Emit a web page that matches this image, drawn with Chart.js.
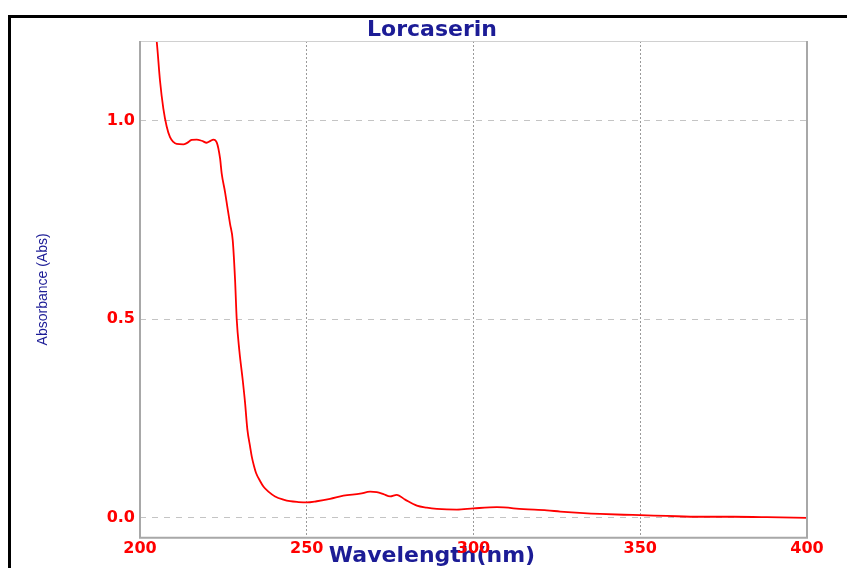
<!DOCTYPE html>
<html>
<head>
<meta charset="utf-8">
<title>Lorcaserin</title>
<script src="https://cdn.jsdelivr.net/npm/chart.js@4"></script>
<style>
  html, body { margin: 0; padding: 0; background: #fff; }
  #wrap { position: relative; width: 847px; height: 568px; overflow: hidden; }
  #frame {
    position: absolute; left: 8px; top: 15px; width: 900px; height: 600px;
    border-left: 3px solid #000; border-top: 3px solid #000; pointer-events: none;
  }
</style>
</head>
<body>
<div id="wrap">
  <canvas id="chart" width="847" height="568"></canvas>
  <div id="frame"></div>
</div>
<script>
// spectrum
const wavelength = [
  204, 205, 206, 207, 208, 209, 210, 211, 213, 214, 215.5, 217, 218.5, 220, 221, 222, 223, 224,
  224.5, 225.5, 226.2, 227, 227.8, 228.5, 229, 229.8, 230.8, 231.5, 232.2, 233, 233.5, 234.2,
  234.8, 236, 237, 238.5, 240.5, 243, 245, 247.5, 250, 253, 257, 261, 266, 269, 271, 273, 275,
  277, 279.5, 283, 286, 289, 295, 300, 307, 315, 322, 326, 333, 338, 345, 350, 358, 368, 378,
  388, 400
];
const absorbance = [
  1.26, 1.20, 1.10, 1.03, 0.985, 0.958, 0.946, 0.941, 0.940, 0.943, 0.951, 0.952, 0.949, 0.944,
  0.948, 0.952, 0.945, 0.905, 0.866, 0.82, 0.782, 0.74, 0.699, 0.60, 0.50, 0.42, 0.347, 0.29,
  0.222, 0.18, 0.155, 0.13, 0.113, 0.093, 0.079, 0.066, 0.054, 0.046, 0.042, 0.040, 0.039,
  0.042, 0.048, 0.056, 0.061, 0.066, 0.065, 0.060, 0.054, 0.058, 0.046, 0.031, 0.026, 0.023,
  0.021, 0.024, 0.027, 0.022, 0.019, 0.016, 0.012, 0.010, 0.008, 0.007, 0.005, 0.003, 0.003,
  0.002, 0.0
];
const xTicks = [200, 250, 300, 350, 400];
const yTicks = [0, 0.5, 1.0];

const points = wavelength.map((w, i) => ({ x: w, y: absorbance[i] }));

const navy = '#1c1c96';
const tickFont = { family: 'DejaVu Sans', size: 16, weight: 'bold' };

// gray box round the plot area
const plotFrame = {
  id: 'plotFrame',
  afterDraw(chart) {
    const { ctx, chartArea: a } = chart;
    ctx.save();
    ctx.setLineDash([]);
    ctx.strokeStyle = '#d0d0d0';
    ctx.lineWidth = 1;
    ctx.beginPath();
    ctx.moveTo(a.left, a.top + 0.5);
    ctx.lineTo(a.right, a.top + 0.5);
    ctx.stroke();
    ctx.strokeStyle = '#a8a8a8';
    ctx.lineWidth = 2;
    ctx.beginPath();
    ctx.moveTo(a.left, a.top);
    ctx.lineTo(a.left, a.bottom);
    ctx.lineTo(a.right, a.bottom);
    ctx.lineTo(a.right, a.top);
    ctx.stroke();
    ctx.restore();
  }
};

const chart = new Chart(document.getElementById('chart'), {
  type: 'line',
  data: {
    datasets: [{
      label: 'Lorcaserin',
      data: points,
      borderColor: '#ff0000',
      borderWidth: 1.8,
      pointRadius: 0,
      cubicInterpolationMode: 'monotone',
      fill: false
    }]
  },
  options: {
    responsive: false,
    animation: false,
    layout: { padding: { left: 17, right: 0, top: 0, bottom: 0 } },
    plugins: {
      legend: { display: false },
      tooltip: { enabled: false },
      title: {
        display: true,
        text: 'Lorcaserin',
        color: navy,
        font: { family: 'DejaVu Sans', size: 22, weight: 'bold', lineHeight: 1.0 },
        padding: { top: 19, bottom: 0 }
      },
      // axis name under the x ticks, centred like the reference;
      // tiny line height so it hardly takes room from the tick row
      subtitle: {
        display: true,
        position: 'bottom',
        text: 'Wavelength(nm)',
        color: navy,
        font: { family: 'DejaVu Sans', size: 22, weight: 'bold', lineHeight: 0.1 },
        padding: { top: 0, bottom: 11 }
      }
    },
    scales: {
      x: {
        type: 'linear',
        min: 200,
        max: 400,
        afterBuildTicks: s => { s.ticks = xTicks.map(v => ({ value: v })); },
        afterFit: s => { s.height = 17; },
        ticks: { color: '#ff0000', font: tickFont, padding: 1, maxRotation: 0 },
        grid: {
          drawTicks: false,
          color: c => (c.tick && (c.tick.value === 200 || c.tick.value === 400)) ? 'rgba(0,0,0,0)' : '#9a9a9a',
          lineWidth: 1
        },
        border: { display: false, dash: [2, 2] }
      },
      y: {
        min: -0.05,
        max: 1.2,
        afterBuildTicks: s => { s.ticks = yTicks.map(v => ({ value: v })); },
        afterFit: s => { s.width = 123; },
        ticks: {
          color: '#ff0000',
          font: tickFont,
          padding: 5,
          callback: v => v.toFixed(1)
        },
        grid: { drawTicks: false, color: '#c4c4c4', lineWidth: 1 },
        border: { display: false, dash: [6, 6] },
        title: {
          display: true,
          text: 'Absorbance (Abs)',
          color: navy,
          font: { family: "'Liberation Sans Narrow', 'Liberation Sans'", size: 14, lineHeight: 1.2 },
          padding: { top: 18, bottom: 0 }
        }
      },
      // empty axis that only keeps the white margin on the right
      yRight: {
        position: 'right',
        min: 0,
        max: 1,
        afterFit: s => { s.width = 40; },
        ticks: { display: false },
        grid: { display: false },
        border: { display: false }
      }
    }
  },
  plugins: [plotFrame]
});
</script>
</body>
</html>
